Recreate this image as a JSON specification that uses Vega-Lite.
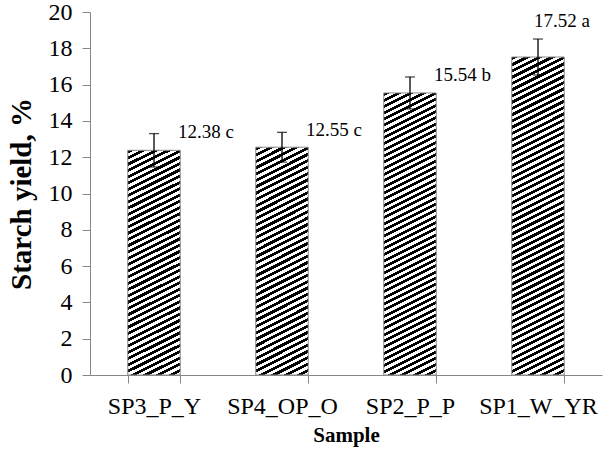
{
  "$schema": "https://vega.github.io/schema/vega-lite/v6.json",
  "width": 512,
  "height": 363,
  "autosize": {"type": "none"},
  "padding": {"left": 90, "top": 12, "right": 10, "bottom": 79},
  "background": "white",
  "config": {
    "view": {"stroke": null},
    "font": "Times New Roman, Liberation Serif, serif",
    "axisY": {"grid": false, "domainColor": "#868686", "tickColor": "#868686", "tickSize": 8, "labelFontSize": 24, "labelFont": "Times New Roman, Liberation Serif, serif", "labelColor": "black", "labelPadding": 10, "titleFont": "Times New Roman, Liberation Serif, serif", "titleFontSize": 29, "titleFontWeight": "bold", "titleColor": "black", "titlePadding": 12, "tickCount": 10}
  },
  "data": {"values": [
    {"Sample": "SP3_P_Y", "yield": 12.38, "lo": 11.46, "hi": 13.30, "label": "12.38 c"},
    {"Sample": "SP4_OP_O", "yield": 12.55, "lo": 11.73, "hi": 13.37, "label": "12.55 c"},
    {"Sample": "SP2_P_P", "yield": 15.54, "lo": 14.66, "hi": 16.42, "label": "15.54 b"},
    {"Sample": "SP1_W_YR", "yield": 17.52, "lo": 16.53, "hi": 18.51, "label": "17.52 a"}
  ]},
  "encoding": {
    "x": {"field": "Sample", "type": "nominal", "sort": null,
      "scale": {"domain": ["SP3_P_Y", "SP4_OP_O", "SP2_P_P", "SP1_W_YR"], "paddingInner": 0.59, "paddingOuter": 0.295},
      "axis": {"title": "Sample", "titleFont": "Times New Roman, Liberation Serif, serif", "titleFontSize": 21, "titleFontWeight": "bold", "titleColor": "black", "titlePadding": 6, "labelFont": "Times New Roman, Liberation Serif, serif", "labelFontSize": 24, "labelColor": "black", "labelAngle": 0, "labelPadding": 11, "domainColor": "#868686", "tickColor": "#868686", "tickSize": 8, "tickBand": "extent", "grid": false}}
  },
  "layer": [
    {
      "transform": [{"filter": "datum.Sample === 'SP3_P_Y' || datum.Sample === 'SP4_OP_O'"}],
      "mark": {"type": "bar", "stroke": "#8c8c8c", "strokeWidth": 1,
        "fill": {"gradient": "linear", "x1": 0, "y1": 0, "x2": 0.12776, "y2": 1.10117, "stops": [
{"offset":0,"color":"#000"},{"offset":0.0125,"color":"#000"},{"offset":0.0125,"color":"#fff"},{"offset":0.025,"color":"#fff"},
{"offset":0.025,"color":"#000"},{"offset":0.0375,"color":"#000"},{"offset":0.0375,"color":"#fff"},{"offset":0.05,"color":"#fff"},
{"offset":0.05,"color":"#000"},{"offset":0.0625,"color":"#000"},{"offset":0.0625,"color":"#fff"},{"offset":0.075,"color":"#fff"},
{"offset":0.075,"color":"#000"},{"offset":0.0875,"color":"#000"},{"offset":0.0875,"color":"#fff"},{"offset":0.1,"color":"#fff"},
{"offset":0.1,"color":"#000"},{"offset":0.1125,"color":"#000"},{"offset":0.1125,"color":"#fff"},{"offset":0.125,"color":"#fff"},
{"offset":0.125,"color":"#000"},{"offset":0.1375,"color":"#000"},{"offset":0.1375,"color":"#fff"},{"offset":0.15,"color":"#fff"},
{"offset":0.15,"color":"#000"},{"offset":0.1625,"color":"#000"},{"offset":0.1625,"color":"#fff"},{"offset":0.175,"color":"#fff"},
{"offset":0.175,"color":"#000"},{"offset":0.1875,"color":"#000"},{"offset":0.1875,"color":"#fff"},{"offset":0.2,"color":"#fff"},
{"offset":0.2,"color":"#000"},{"offset":0.2125,"color":"#000"},{"offset":0.2125,"color":"#fff"},{"offset":0.225,"color":"#fff"},
{"offset":0.225,"color":"#000"},{"offset":0.2375,"color":"#000"},{"offset":0.2375,"color":"#fff"},{"offset":0.25,"color":"#fff"},
{"offset":0.25,"color":"#000"},{"offset":0.2625,"color":"#000"},{"offset":0.2625,"color":"#fff"},{"offset":0.275,"color":"#fff"},
{"offset":0.275,"color":"#000"},{"offset":0.2875,"color":"#000"},{"offset":0.2875,"color":"#fff"},{"offset":0.3,"color":"#fff"},
{"offset":0.3,"color":"#000"},{"offset":0.3125,"color":"#000"},{"offset":0.3125,"color":"#fff"},{"offset":0.325,"color":"#fff"},
{"offset":0.325,"color":"#000"},{"offset":0.3375,"color":"#000"},{"offset":0.3375,"color":"#fff"},{"offset":0.35,"color":"#fff"},
{"offset":0.35,"color":"#000"},{"offset":0.3625,"color":"#000"},{"offset":0.3625,"color":"#fff"},{"offset":0.375,"color":"#fff"},
{"offset":0.375,"color":"#000"},{"offset":0.3875,"color":"#000"},{"offset":0.3875,"color":"#fff"},{"offset":0.4,"color":"#fff"},
{"offset":0.4,"color":"#000"},{"offset":0.4125,"color":"#000"},{"offset":0.4125,"color":"#fff"},{"offset":0.425,"color":"#fff"},
{"offset":0.425,"color":"#000"},{"offset":0.4375,"color":"#000"},{"offset":0.4375,"color":"#fff"},{"offset":0.45,"color":"#fff"},
{"offset":0.45,"color":"#000"},{"offset":0.4625,"color":"#000"},{"offset":0.4625,"color":"#fff"},{"offset":0.475,"color":"#fff"},
{"offset":0.475,"color":"#000"},{"offset":0.4875,"color":"#000"},{"offset":0.4875,"color":"#fff"},{"offset":0.5,"color":"#fff"},
{"offset":0.5,"color":"#000"},{"offset":0.5125,"color":"#000"},{"offset":0.5125,"color":"#fff"},{"offset":0.525,"color":"#fff"},
{"offset":0.525,"color":"#000"},{"offset":0.5375,"color":"#000"},{"offset":0.5375,"color":"#fff"},{"offset":0.55,"color":"#fff"},
{"offset":0.55,"color":"#000"},{"offset":0.5625,"color":"#000"},{"offset":0.5625,"color":"#fff"},{"offset":0.575,"color":"#fff"},
{"offset":0.575,"color":"#000"},{"offset":0.5875,"color":"#000"},{"offset":0.5875,"color":"#fff"},{"offset":0.6,"color":"#fff"},
{"offset":0.6,"color":"#000"},{"offset":0.6125,"color":"#000"},{"offset":0.6125,"color":"#fff"},{"offset":0.625,"color":"#fff"},
{"offset":0.625,"color":"#000"},{"offset":0.6375,"color":"#000"},{"offset":0.6375,"color":"#fff"},{"offset":0.65,"color":"#fff"},
{"offset":0.65,"color":"#000"},{"offset":0.6625,"color":"#000"},{"offset":0.6625,"color":"#fff"},{"offset":0.675,"color":"#fff"},
{"offset":0.675,"color":"#000"},{"offset":0.6875,"color":"#000"},{"offset":0.6875,"color":"#fff"},{"offset":0.7,"color":"#fff"},
{"offset":0.7,"color":"#000"},{"offset":0.7125,"color":"#000"},{"offset":0.7125,"color":"#fff"},{"offset":0.725,"color":"#fff"},
{"offset":0.725,"color":"#000"},{"offset":0.7375,"color":"#000"},{"offset":0.7375,"color":"#fff"},{"offset":0.75,"color":"#fff"},
{"offset":0.75,"color":"#000"},{"offset":0.7625,"color":"#000"},{"offset":0.7625,"color":"#fff"},{"offset":0.775,"color":"#fff"},
{"offset":0.775,"color":"#000"},{"offset":0.7875,"color":"#000"},{"offset":0.7875,"color":"#fff"},{"offset":0.8,"color":"#fff"},
{"offset":0.8,"color":"#000"},{"offset":0.8125,"color":"#000"},{"offset":0.8125,"color":"#fff"},{"offset":0.825,"color":"#fff"},
{"offset":0.825,"color":"#000"},{"offset":0.8375,"color":"#000"},{"offset":0.8375,"color":"#fff"},{"offset":0.85,"color":"#fff"},
{"offset":0.85,"color":"#000"},{"offset":0.8625,"color":"#000"},{"offset":0.8625,"color":"#fff"},{"offset":0.875,"color":"#fff"},
{"offset":0.875,"color":"#000"},{"offset":0.8875,"color":"#000"},{"offset":0.8875,"color":"#fff"},{"offset":0.9,"color":"#fff"},
{"offset":0.9,"color":"#000"},{"offset":0.9125,"color":"#000"},{"offset":0.9125,"color":"#fff"},{"offset":0.925,"color":"#fff"},
{"offset":0.925,"color":"#000"},{"offset":0.9375,"color":"#000"},{"offset":0.9375,"color":"#fff"},{"offset":0.95,"color":"#fff"},
{"offset":0.95,"color":"#000"},{"offset":0.9625,"color":"#000"},{"offset":0.9625,"color":"#fff"},{"offset":0.975,"color":"#fff"},
{"offset":0.975,"color":"#000"},{"offset":0.9875,"color":"#000"},{"offset":0.9875,"color":"#fff"},{"offset":1,"color":"#fff"}
        ]}},
      "encoding": {"y": {"field": "yield", "type": "quantitative", "title": "Starch yield, %", "scale": {"domain": [0, 20]}}}
    },
    {
      "transform": [{"filter": "datum.Sample === 'SP2_P_P'"}],
      "mark": {"type": "bar", "stroke": "#8c8c8c", "strokeWidth": 1,
        "fill": {"gradient": "linear", "x1": 0, "y1": 0, "x2": 0.10086, "y2": 1.08373, "stops": [
{"offset":0,"color":"#000"},{"offset":0.01,"color":"#000"},{"offset":0.01,"color":"#fff"},{"offset":0.02,"color":"#fff"},
{"offset":0.02,"color":"#000"},{"offset":0.03,"color":"#000"},{"offset":0.03,"color":"#fff"},{"offset":0.04,"color":"#fff"},
{"offset":0.04,"color":"#000"},{"offset":0.05,"color":"#000"},{"offset":0.05,"color":"#fff"},{"offset":0.06,"color":"#fff"},
{"offset":0.06,"color":"#000"},{"offset":0.07,"color":"#000"},{"offset":0.07,"color":"#fff"},{"offset":0.08,"color":"#fff"},
{"offset":0.08,"color":"#000"},{"offset":0.09,"color":"#000"},{"offset":0.09,"color":"#fff"},{"offset":0.1,"color":"#fff"},
{"offset":0.1,"color":"#000"},{"offset":0.11,"color":"#000"},{"offset":0.11,"color":"#fff"},{"offset":0.12,"color":"#fff"},
{"offset":0.12,"color":"#000"},{"offset":0.13,"color":"#000"},{"offset":0.13,"color":"#fff"},{"offset":0.14,"color":"#fff"},
{"offset":0.14,"color":"#000"},{"offset":0.15,"color":"#000"},{"offset":0.15,"color":"#fff"},{"offset":0.16,"color":"#fff"},
{"offset":0.16,"color":"#000"},{"offset":0.17,"color":"#000"},{"offset":0.17,"color":"#fff"},{"offset":0.18,"color":"#fff"},
{"offset":0.18,"color":"#000"},{"offset":0.19,"color":"#000"},{"offset":0.19,"color":"#fff"},{"offset":0.2,"color":"#fff"},
{"offset":0.2,"color":"#000"},{"offset":0.21,"color":"#000"},{"offset":0.21,"color":"#fff"},{"offset":0.22,"color":"#fff"},
{"offset":0.22,"color":"#000"},{"offset":0.23,"color":"#000"},{"offset":0.23,"color":"#fff"},{"offset":0.24,"color":"#fff"},
{"offset":0.24,"color":"#000"},{"offset":0.25,"color":"#000"},{"offset":0.25,"color":"#fff"},{"offset":0.26,"color":"#fff"},
{"offset":0.26,"color":"#000"},{"offset":0.27,"color":"#000"},{"offset":0.27,"color":"#fff"},{"offset":0.28,"color":"#fff"},
{"offset":0.28,"color":"#000"},{"offset":0.29,"color":"#000"},{"offset":0.29,"color":"#fff"},{"offset":0.3,"color":"#fff"},
{"offset":0.3,"color":"#000"},{"offset":0.31,"color":"#000"},{"offset":0.31,"color":"#fff"},{"offset":0.32,"color":"#fff"},
{"offset":0.32,"color":"#000"},{"offset":0.33,"color":"#000"},{"offset":0.33,"color":"#fff"},{"offset":0.34,"color":"#fff"},
{"offset":0.34,"color":"#000"},{"offset":0.35,"color":"#000"},{"offset":0.35,"color":"#fff"},{"offset":0.36,"color":"#fff"},
{"offset":0.36,"color":"#000"},{"offset":0.37,"color":"#000"},{"offset":0.37,"color":"#fff"},{"offset":0.38,"color":"#fff"},
{"offset":0.38,"color":"#000"},{"offset":0.39,"color":"#000"},{"offset":0.39,"color":"#fff"},{"offset":0.4,"color":"#fff"},
{"offset":0.4,"color":"#000"},{"offset":0.41,"color":"#000"},{"offset":0.41,"color":"#fff"},{"offset":0.42,"color":"#fff"},
{"offset":0.42,"color":"#000"},{"offset":0.43,"color":"#000"},{"offset":0.43,"color":"#fff"},{"offset":0.44,"color":"#fff"},
{"offset":0.44,"color":"#000"},{"offset":0.45,"color":"#000"},{"offset":0.45,"color":"#fff"},{"offset":0.46,"color":"#fff"},
{"offset":0.46,"color":"#000"},{"offset":0.47,"color":"#000"},{"offset":0.47,"color":"#fff"},{"offset":0.48,"color":"#fff"},
{"offset":0.48,"color":"#000"},{"offset":0.49,"color":"#000"},{"offset":0.49,"color":"#fff"},{"offset":0.5,"color":"#fff"},
{"offset":0.5,"color":"#000"},{"offset":0.51,"color":"#000"},{"offset":0.51,"color":"#fff"},{"offset":0.52,"color":"#fff"},
{"offset":0.52,"color":"#000"},{"offset":0.53,"color":"#000"},{"offset":0.53,"color":"#fff"},{"offset":0.54,"color":"#fff"},
{"offset":0.54,"color":"#000"},{"offset":0.55,"color":"#000"},{"offset":0.55,"color":"#fff"},{"offset":0.56,"color":"#fff"},
{"offset":0.56,"color":"#000"},{"offset":0.57,"color":"#000"},{"offset":0.57,"color":"#fff"},{"offset":0.58,"color":"#fff"},
{"offset":0.58,"color":"#000"},{"offset":0.59,"color":"#000"},{"offset":0.59,"color":"#fff"},{"offset":0.6,"color":"#fff"},
{"offset":0.6,"color":"#000"},{"offset":0.61,"color":"#000"},{"offset":0.61,"color":"#fff"},{"offset":0.62,"color":"#fff"},
{"offset":0.62,"color":"#000"},{"offset":0.63,"color":"#000"},{"offset":0.63,"color":"#fff"},{"offset":0.64,"color":"#fff"},
{"offset":0.64,"color":"#000"},{"offset":0.65,"color":"#000"},{"offset":0.65,"color":"#fff"},{"offset":0.66,"color":"#fff"},
{"offset":0.66,"color":"#000"},{"offset":0.67,"color":"#000"},{"offset":0.67,"color":"#fff"},{"offset":0.68,"color":"#fff"},
{"offset":0.68,"color":"#000"},{"offset":0.69,"color":"#000"},{"offset":0.69,"color":"#fff"},{"offset":0.7,"color":"#fff"},
{"offset":0.7,"color":"#000"},{"offset":0.71,"color":"#000"},{"offset":0.71,"color":"#fff"},{"offset":0.72,"color":"#fff"},
{"offset":0.72,"color":"#000"},{"offset":0.73,"color":"#000"},{"offset":0.73,"color":"#fff"},{"offset":0.74,"color":"#fff"},
{"offset":0.74,"color":"#000"},{"offset":0.75,"color":"#000"},{"offset":0.75,"color":"#fff"},{"offset":0.76,"color":"#fff"},
{"offset":0.76,"color":"#000"},{"offset":0.77,"color":"#000"},{"offset":0.77,"color":"#fff"},{"offset":0.78,"color":"#fff"},
{"offset":0.78,"color":"#000"},{"offset":0.79,"color":"#000"},{"offset":0.79,"color":"#fff"},{"offset":0.8,"color":"#fff"},
{"offset":0.8,"color":"#000"},{"offset":0.81,"color":"#000"},{"offset":0.81,"color":"#fff"},{"offset":0.82,"color":"#fff"},
{"offset":0.82,"color":"#000"},{"offset":0.83,"color":"#000"},{"offset":0.83,"color":"#fff"},{"offset":0.84,"color":"#fff"},
{"offset":0.84,"color":"#000"},{"offset":0.85,"color":"#000"},{"offset":0.85,"color":"#fff"},{"offset":0.86,"color":"#fff"},
{"offset":0.86,"color":"#000"},{"offset":0.87,"color":"#000"},{"offset":0.87,"color":"#fff"},{"offset":0.88,"color":"#fff"},
{"offset":0.88,"color":"#000"},{"offset":0.89,"color":"#000"},{"offset":0.89,"color":"#fff"},{"offset":0.9,"color":"#fff"},
{"offset":0.9,"color":"#000"},{"offset":0.91,"color":"#000"},{"offset":0.91,"color":"#fff"},{"offset":0.92,"color":"#fff"},
{"offset":0.92,"color":"#000"},{"offset":0.93,"color":"#000"},{"offset":0.93,"color":"#fff"},{"offset":0.94,"color":"#fff"},
{"offset":0.94,"color":"#000"},{"offset":0.95,"color":"#000"},{"offset":0.95,"color":"#fff"},{"offset":0.96,"color":"#fff"},
{"offset":0.96,"color":"#000"},{"offset":0.97,"color":"#000"},{"offset":0.97,"color":"#fff"},{"offset":0.98,"color":"#fff"},
{"offset":0.98,"color":"#000"},{"offset":0.99,"color":"#000"},{"offset":0.99,"color":"#fff"},{"offset":1,"color":"#fff"}
        ]}},
      "encoding": {"y": {"field": "yield", "type": "quantitative", "title": "Starch yield, %"}}
    },
    {
      "transform": [{"filter": "datum.Sample === 'SP1_W_YR'"}],
      "mark": {"type": "bar", "stroke": "#8c8c8c", "strokeWidth": 1,
        "fill": {"gradient": "linear", "x1": 0, "y1": 0, "x2": 0.08876, "y2": 1.07524, "stops": [
{"offset":0,"color":"#000"},{"offset":0.00909,"color":"#000"},{"offset":0.00909,"color":"#fff"},{"offset":0.01818,"color":"#fff"},
{"offset":0.01818,"color":"#000"},{"offset":0.02727,"color":"#000"},{"offset":0.02727,"color":"#fff"},{"offset":0.03636,"color":"#fff"},
{"offset":0.03636,"color":"#000"},{"offset":0.04545,"color":"#000"},{"offset":0.04545,"color":"#fff"},{"offset":0.05455,"color":"#fff"},
{"offset":0.05455,"color":"#000"},{"offset":0.06364,"color":"#000"},{"offset":0.06364,"color":"#fff"},{"offset":0.07273,"color":"#fff"},
{"offset":0.07273,"color":"#000"},{"offset":0.08182,"color":"#000"},{"offset":0.08182,"color":"#fff"},{"offset":0.09091,"color":"#fff"},
{"offset":0.09091,"color":"#000"},{"offset":0.1,"color":"#000"},{"offset":0.1,"color":"#fff"},{"offset":0.10909,"color":"#fff"},
{"offset":0.10909,"color":"#000"},{"offset":0.11818,"color":"#000"},{"offset":0.11818,"color":"#fff"},{"offset":0.12727,"color":"#fff"},
{"offset":0.12727,"color":"#000"},{"offset":0.13636,"color":"#000"},{"offset":0.13636,"color":"#fff"},{"offset":0.14545,"color":"#fff"},
{"offset":0.14545,"color":"#000"},{"offset":0.15455,"color":"#000"},{"offset":0.15455,"color":"#fff"},{"offset":0.16364,"color":"#fff"},
{"offset":0.16364,"color":"#000"},{"offset":0.17273,"color":"#000"},{"offset":0.17273,"color":"#fff"},{"offset":0.18182,"color":"#fff"},
{"offset":0.18182,"color":"#000"},{"offset":0.19091,"color":"#000"},{"offset":0.19091,"color":"#fff"},{"offset":0.2,"color":"#fff"},
{"offset":0.2,"color":"#000"},{"offset":0.20909,"color":"#000"},{"offset":0.20909,"color":"#fff"},{"offset":0.21818,"color":"#fff"},
{"offset":0.21818,"color":"#000"},{"offset":0.22727,"color":"#000"},{"offset":0.22727,"color":"#fff"},{"offset":0.23636,"color":"#fff"},
{"offset":0.23636,"color":"#000"},{"offset":0.24545,"color":"#000"},{"offset":0.24545,"color":"#fff"},{"offset":0.25455,"color":"#fff"},
{"offset":0.25455,"color":"#000"},{"offset":0.26364,"color":"#000"},{"offset":0.26364,"color":"#fff"},{"offset":0.27273,"color":"#fff"},
{"offset":0.27273,"color":"#000"},{"offset":0.28182,"color":"#000"},{"offset":0.28182,"color":"#fff"},{"offset":0.29091,"color":"#fff"},
{"offset":0.29091,"color":"#000"},{"offset":0.3,"color":"#000"},{"offset":0.3,"color":"#fff"},{"offset":0.30909,"color":"#fff"},
{"offset":0.30909,"color":"#000"},{"offset":0.31818,"color":"#000"},{"offset":0.31818,"color":"#fff"},{"offset":0.32727,"color":"#fff"},
{"offset":0.32727,"color":"#000"},{"offset":0.33636,"color":"#000"},{"offset":0.33636,"color":"#fff"},{"offset":0.34545,"color":"#fff"},
{"offset":0.34545,"color":"#000"},{"offset":0.35455,"color":"#000"},{"offset":0.35455,"color":"#fff"},{"offset":0.36364,"color":"#fff"},
{"offset":0.36364,"color":"#000"},{"offset":0.37273,"color":"#000"},{"offset":0.37273,"color":"#fff"},{"offset":0.38182,"color":"#fff"},
{"offset":0.38182,"color":"#000"},{"offset":0.39091,"color":"#000"},{"offset":0.39091,"color":"#fff"},{"offset":0.4,"color":"#fff"},
{"offset":0.4,"color":"#000"},{"offset":0.40909,"color":"#000"},{"offset":0.40909,"color":"#fff"},{"offset":0.41818,"color":"#fff"},
{"offset":0.41818,"color":"#000"},{"offset":0.42727,"color":"#000"},{"offset":0.42727,"color":"#fff"},{"offset":0.43636,"color":"#fff"},
{"offset":0.43636,"color":"#000"},{"offset":0.44545,"color":"#000"},{"offset":0.44545,"color":"#fff"},{"offset":0.45455,"color":"#fff"},
{"offset":0.45455,"color":"#000"},{"offset":0.46364,"color":"#000"},{"offset":0.46364,"color":"#fff"},{"offset":0.47273,"color":"#fff"},
{"offset":0.47273,"color":"#000"},{"offset":0.48182,"color":"#000"},{"offset":0.48182,"color":"#fff"},{"offset":0.49091,"color":"#fff"},
{"offset":0.49091,"color":"#000"},{"offset":0.5,"color":"#000"},{"offset":0.5,"color":"#fff"},{"offset":0.50909,"color":"#fff"},
{"offset":0.50909,"color":"#000"},{"offset":0.51818,"color":"#000"},{"offset":0.51818,"color":"#fff"},{"offset":0.52727,"color":"#fff"},
{"offset":0.52727,"color":"#000"},{"offset":0.53636,"color":"#000"},{"offset":0.53636,"color":"#fff"},{"offset":0.54545,"color":"#fff"},
{"offset":0.54545,"color":"#000"},{"offset":0.55455,"color":"#000"},{"offset":0.55455,"color":"#fff"},{"offset":0.56364,"color":"#fff"},
{"offset":0.56364,"color":"#000"},{"offset":0.57273,"color":"#000"},{"offset":0.57273,"color":"#fff"},{"offset":0.58182,"color":"#fff"},
{"offset":0.58182,"color":"#000"},{"offset":0.59091,"color":"#000"},{"offset":0.59091,"color":"#fff"},{"offset":0.6,"color":"#fff"},
{"offset":0.6,"color":"#000"},{"offset":0.60909,"color":"#000"},{"offset":0.60909,"color":"#fff"},{"offset":0.61818,"color":"#fff"},
{"offset":0.61818,"color":"#000"},{"offset":0.62727,"color":"#000"},{"offset":0.62727,"color":"#fff"},{"offset":0.63636,"color":"#fff"},
{"offset":0.63636,"color":"#000"},{"offset":0.64545,"color":"#000"},{"offset":0.64545,"color":"#fff"},{"offset":0.65455,"color":"#fff"},
{"offset":0.65455,"color":"#000"},{"offset":0.66364,"color":"#000"},{"offset":0.66364,"color":"#fff"},{"offset":0.67273,"color":"#fff"},
{"offset":0.67273,"color":"#000"},{"offset":0.68182,"color":"#000"},{"offset":0.68182,"color":"#fff"},{"offset":0.69091,"color":"#fff"},
{"offset":0.69091,"color":"#000"},{"offset":0.7,"color":"#000"},{"offset":0.7,"color":"#fff"},{"offset":0.70909,"color":"#fff"},
{"offset":0.70909,"color":"#000"},{"offset":0.71818,"color":"#000"},{"offset":0.71818,"color":"#fff"},{"offset":0.72727,"color":"#fff"},
{"offset":0.72727,"color":"#000"},{"offset":0.73636,"color":"#000"},{"offset":0.73636,"color":"#fff"},{"offset":0.74545,"color":"#fff"},
{"offset":0.74545,"color":"#000"},{"offset":0.75455,"color":"#000"},{"offset":0.75455,"color":"#fff"},{"offset":0.76364,"color":"#fff"},
{"offset":0.76364,"color":"#000"},{"offset":0.77273,"color":"#000"},{"offset":0.77273,"color":"#fff"},{"offset":0.78182,"color":"#fff"},
{"offset":0.78182,"color":"#000"},{"offset":0.79091,"color":"#000"},{"offset":0.79091,"color":"#fff"},{"offset":0.8,"color":"#fff"},
{"offset":0.8,"color":"#000"},{"offset":0.80909,"color":"#000"},{"offset":0.80909,"color":"#fff"},{"offset":0.81818,"color":"#fff"},
{"offset":0.81818,"color":"#000"},{"offset":0.82727,"color":"#000"},{"offset":0.82727,"color":"#fff"},{"offset":0.83636,"color":"#fff"},
{"offset":0.83636,"color":"#000"},{"offset":0.84545,"color":"#000"},{"offset":0.84545,"color":"#fff"},{"offset":0.85455,"color":"#fff"},
{"offset":0.85455,"color":"#000"},{"offset":0.86364,"color":"#000"},{"offset":0.86364,"color":"#fff"},{"offset":0.87273,"color":"#fff"},
{"offset":0.87273,"color":"#000"},{"offset":0.88182,"color":"#000"},{"offset":0.88182,"color":"#fff"},{"offset":0.89091,"color":"#fff"},
{"offset":0.89091,"color":"#000"},{"offset":0.9,"color":"#000"},{"offset":0.9,"color":"#fff"},{"offset":0.90909,"color":"#fff"},
{"offset":0.90909,"color":"#000"},{"offset":0.91818,"color":"#000"},{"offset":0.91818,"color":"#fff"},{"offset":0.92727,"color":"#fff"},
{"offset":0.92727,"color":"#000"},{"offset":0.93636,"color":"#000"},{"offset":0.93636,"color":"#fff"},{"offset":0.94545,"color":"#fff"},
{"offset":0.94545,"color":"#000"},{"offset":0.95455,"color":"#000"},{"offset":0.95455,"color":"#fff"},{"offset":0.96364,"color":"#fff"},
{"offset":0.96364,"color":"#000"},{"offset":0.97273,"color":"#000"},{"offset":0.97273,"color":"#fff"},{"offset":0.98182,"color":"#fff"},
{"offset":0.98182,"color":"#000"},{"offset":0.99091,"color":"#000"},{"offset":0.99091,"color":"#fff"},{"offset":1,"color":"#fff"}
        ]}},
      "encoding": {"y": {"field": "yield", "type": "quantitative", "title": "Starch yield, %"}}
    },
    {
      "mark": {"type": "rule", "color": "black", "strokeWidth": 1.3},
      "encoding": {"y": {"field": "lo", "type": "quantitative", "title": "Starch yield, %"}, "y2": {"field": "hi"}}
    },
    {
      "mark": {"type": "tick", "color": "black", "size": 10, "thickness": 1.3},
      "encoding": {"y": {"field": "lo", "type": "quantitative", "title": "Starch yield, %"}}
    },
    {
      "mark": {"type": "tick", "color": "black", "size": 10, "thickness": 1.3},
      "encoding": {"y": {"field": "hi", "type": "quantitative", "title": "Starch yield, %"}}
    },
    {
      "transform": [{"filter": "datum.Sample !== 'SP1_W_YR'"}],
      "mark": {"type": "text", "align": "left", "baseline": "middle", "dx": 24, "dy": -2, "fontSize": 19, "font": "Times New Roman, Liberation Serif, serif", "color": "black"},
      "encoding": {"y": {"field": "hi", "type": "quantitative", "title": "Starch yield, %"}, "text": {"field": "label"}}
    },
    {
      "transform": [{"filter": "datum.Sample === 'SP1_W_YR'"}],
      "mark": {"type": "text", "align": "center", "baseline": "middle", "dx": 24, "dy": -18, "fontSize": 19, "font": "Times New Roman, Liberation Serif, serif", "color": "black"},
      "encoding": {"y": {"field": "hi", "type": "quantitative", "title": "Starch yield, %"}, "text": {"field": "label"}}
    }
  ]
}
